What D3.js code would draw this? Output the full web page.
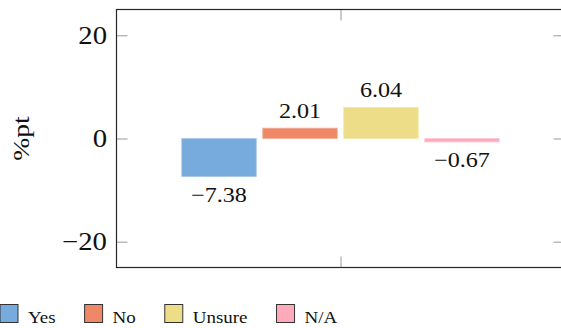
<!DOCTYPE html>
<html>
<head>
<meta charset="utf-8">
<script src="https://cdn.jsdelivr.net/npm/d3@7/dist/d3.min.js"></script>
<style>
  html, body { margin: 0; padding: 0; background: #fff; }
  svg { display: block; }
</style>
</head>
<body>
<svg id="chart" width="561" height="328"></svg>
<script>
// Change in answer share, percentage points
const categories = ["Yes", "No", "Unsure", "N/A"];
const values = [-7.38, 2.01, 6.04, -0.67];
const colors = ["#77aadd", "#ee8866", "#eedd88", "#ffaabb"];
const edgeColors = ["#a9c9ea", "#f3b09a", "#f3e8b0", "#ffc8d3"];
const yTicks = [-20, 0, 20];
const yDomain = [-25, 25];
const yLabel = "%pt";

const FONT = "'Liberation Serif', 'DejaVu Serif', serif";
const svg = d3.select("#chart").attr("font-family", FONT);
const plot = { left: 116.5, right: 564.5, top: 9.5, bottom: 267.5 };
const stretch = 1.15; // horizontal text stretch

const y = d3.scaleLinear().domain(yDomain).range([plot.bottom, plot.top]);
const cx = (plot.left + plot.right) / 2;
const x = d3.scaleBand()
  .domain(categories)
  .range([cx - 158.75, cx + 158.75])
  .paddingInner(0.08)
  .paddingOuter(0);

const fmt = v => (v < 0 ? "\u2212" : "") + Math.abs(v).toFixed(2);

function stretchedText(g, px, py, str, size, anchor) {
  return g.append("text")
    .attr("transform", `translate(${px},${py}) scale(${stretch},1)`)
    .attr("text-anchor", anchor)
    .attr("font-family", FONT)
    .attr("font-size", size)
    .attr("fill", "#111")
    .text(str);
}

// Bars
const bars = svg.append("g");
categories.forEach((c, i) => {
  const v = values[i];
  bars.append("rect")
    .attr("x", x(c))
    .attr("width", x.bandwidth())
    .attr("y", y(Math.max(0, v)))
    .attr("height", Math.abs(y(v) - y(0)))
    .attr("fill", colors[i])
    .attr("stroke", edgeColors[i])
    .attr("stroke-width", 0.8);
});

// Value labels
const labels = svg.append("g");
categories.forEach((c, i) => {
  const v = values[i];
  const bx = x(c) + x.bandwidth() / 2;
  const by = v >= 0 ? y(v) - 10 : y(v) + 25;
  stretchedText(labels, bx, by, fmt(v), 21, "middle");
});

// Ticks (inward, grey) on all four sides
const tickColor = "#9a9a9a";
const axLeft = svg.append("g").attr("transform", `translate(${plot.left},0)`)
  .call(d3.axisLeft(y).tickValues(yTicks).tickSizeInner(-11).tickSizeOuter(0).tickFormat(""));
const axRight = svg.append("g").attr("transform", `translate(${plot.right},0)`)
  .call(d3.axisRight(y).tickValues(yTicks).tickSizeInner(-11).tickSizeOuter(0).tickFormat(""));
const xTick = d3.scalePoint().domain(["group"]).range([plot.left, plot.right]).padding(0.5);
const axBottom = svg.append("g").attr("transform", `translate(0,${plot.bottom})`)
  .call(d3.axisBottom(xTick).tickSizeInner(-11).tickSizeOuter(0).tickFormat(""));
const axTop = svg.append("g").attr("transform", `translate(0,${plot.top})`)
  .call(d3.axisTop(xTick).tickSizeInner(-11).tickSizeOuter(0).tickFormat(""));
[axLeft, axRight, axBottom, axTop].forEach(g => {
  g.select(".domain").remove();
  g.selectAll(".tick line").attr("stroke", tickColor).attr("stroke-width", 1);
});

// Y tick labels
const tl = svg.append("g");
yTicks.forEach(t => {
  stretchedText(tl, plot.left - 9.5, y(t) + 8.5, fmt(t).replace(".00", ""), 25, "end");
});

// Frame
svg.append("rect")
  .attr("x", plot.left).attr("y", plot.top)
  .attr("width", plot.right - plot.left)
  .attr("height", plot.bottom - plot.top)
  .attr("fill", "none")
  .attr("stroke", "#262626")
  .attr("stroke-width", 1.2);

// Y axis title
svg.append("text")
  .attr("transform", `translate(29,${(plot.top + plot.bottom) / 2}) rotate(-90) scale(${stretch},1)`)
  .attr("text-anchor", "middle")
  .attr("font-family", FONT)
  .attr("font-size", 24)
  .attr("fill", "#111")
  .text(yLabel);

// Legend
const legend = svg.append("g");
const legendStretch = 1.15;
let lx = 0;
categories.forEach((c, i) => {
  legend.append("rect")
    .attr("x", lx).attr("y", 304.5)
    .attr("width", 18).attr("height", 18)
    .attr("fill", colors[i])
    .attr("stroke", "#333")
    .attr("stroke-width", 1);
  const t = legend.append("text")
    .attr("transform", `translate(${lx + 28},323) scale(${legendStretch},1)`)
    .attr("font-family", FONT)
    .attr("font-size", 16.5)
    .attr("fill", "#111")
    .text(c);
  const w = t.node().getComputedTextLength() * legendStretch;
  lx = lx + 28 + w + 29;
});
</script>
</body>
</html>
